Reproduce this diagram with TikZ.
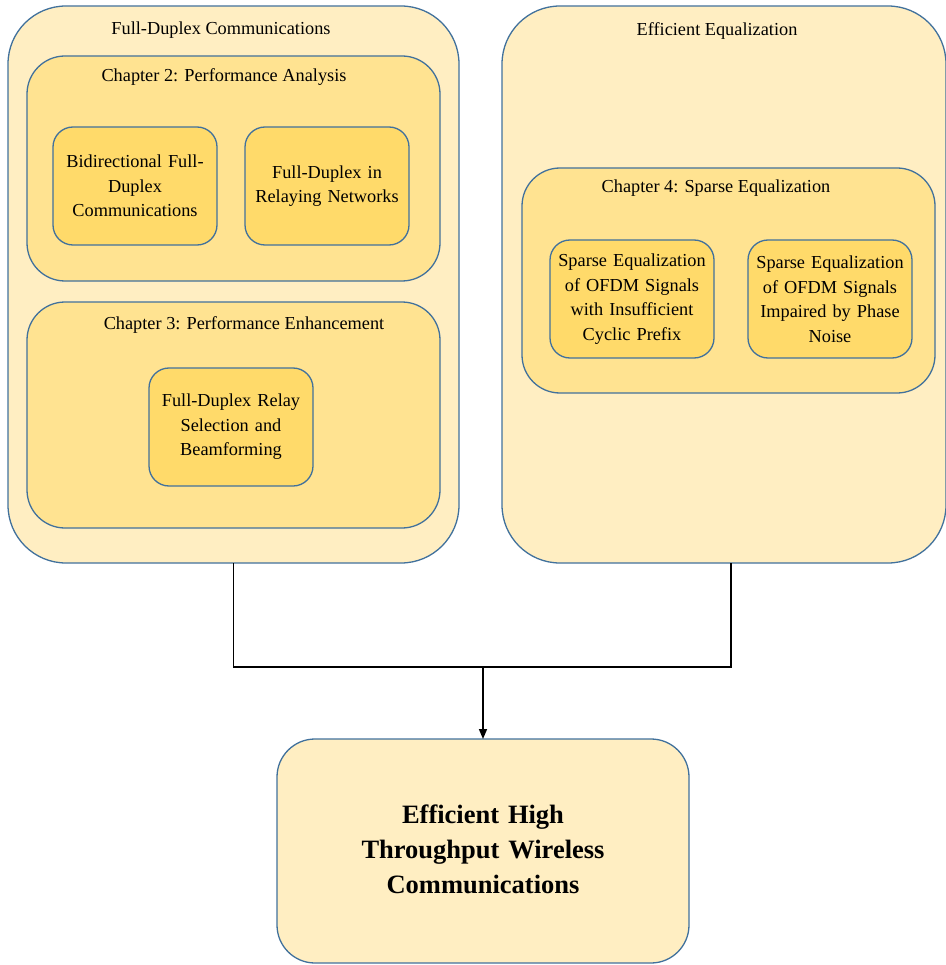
\documentclass[tikz,border=0pt]{standalone}
\usepackage{fontspec}
\setmainfont{Liberation Serif}
\usetikzlibrary{arrows.meta}
\definecolor{outerfill}{HTML}{FFEEC2}
\definecolor{chapfill}{HTML}{FFE391}
\definecolor{innerfill}{HTML}{FFDA6A}
\definecolor{edgeblue}{HTML}{41719C}
\begin{document}
\begin{tikzpicture}[x=1pt,y=-1pt,
  basebox/.style={draw=edgeblue,line width=1.3pt,inner sep=0pt,outer sep=0pt,anchor=north west},
  outerbox/.style={basebox,fill=outerfill,rounded corners=58pt},
  chapbox/.style={basebox,fill=chapfill,rounded corners=38pt,minimum width=413pt,minimum height=225pt},
  innerbox/.style={basebox,fill=innerfill,rounded corners=20pt,minimum width=164pt,minimum height=118pt},
  innertext/.style={font=\fontsize{18.3}{24.5}\selectfont,align=center,text width=162pt,inner sep=0pt},
  titletext/.style={font=\fontsize{18.3}{21}\selectfont},
  conn/.style={draw=black,line width=1.6pt}]
\useasboundingbox (0,0) rectangle (945,965);

% outer containers
\node[outerbox,minimum width=451pt,minimum height=557pt] (outerL) at (8,6) {};
\node[outerbox,minimum width=444pt,minimum height=557pt] (outerR) at (502,6) {};

% chapters
\node[chapbox] (ch2) at (27,56) {};
\node[chapbox,minimum height=226pt] (ch3) at (27,302) {};
\node[chapbox] (ch4) at (522,168) {};

% inner boxes
\node[innerbox] (bidir) at (53,127) {};
\node[innerbox] (relay) at (245,127) {};
\node[innerbox] (relsel) at (149,368) {};
\node[innerbox] (sparse1) at (550,240) {};
\node[innerbox] (sparse2) at (748,240) {};

\node[innertext] (bidirT) at (bidir.center) {Bidirectional Full-\\Duplex\\Communications};
\node[innertext] (relayT) at (relay.center) {Full-Duplex in\\Relaying Networks};
\node[innertext] (relselT) at (relsel.center) {Full-Duplex Relay\\Selection and\\Beamforming};
\node[innertext] (sparse1T) at (sparse1.center) {Sparse Equalization\\of OFDM Signals\\with Insufficient\\Cyclic Prefix};
\node[innertext] (sparse2T) at (sparse2.center) {Sparse Equalization\\of OFDM Signals\\Impaired by Phase\\Noise};

% titles
\node[titletext] (tFD) at (221,30) {Full-Duplex Communications};
\node[titletext] (tCh2) at (224,77) {Chapter 2: Performance Analysis};
\node[titletext] (tCh3) at (244,325) {Chapter 3: Performance Enhancement};
\node[titletext] (tEE) at (717,31) {Efficient Equalization};
\node[titletext] (tCh4) at (716,188) {Chapter 4: Sparse Equalization};

% bottom box
\node[basebox,fill=outerfill,rounded corners=38pt,minimum width=412pt,minimum height=224pt] (bottom) at (277,739) {};
\node[font=\fontsize{26.5}{35}\selectfont\bfseries,align=center,text width=330pt,inner sep=0pt] (bottomT) at ([yshift=2pt]bottom.center) {Efficient High\\Throughput Wireless\\Communications};

% connectors
\coordinate (rj) at (731,667);
\coordinate (mj) at (483,667);
\draw[conn] (outerL.south) |- (rj) -- (rj |- outerR.south);
\draw[conn,-{Triangle[length=10pt,width=8pt]}] (mj) -- (mj |- bottom.north);
\end{tikzpicture}
\end{document}
